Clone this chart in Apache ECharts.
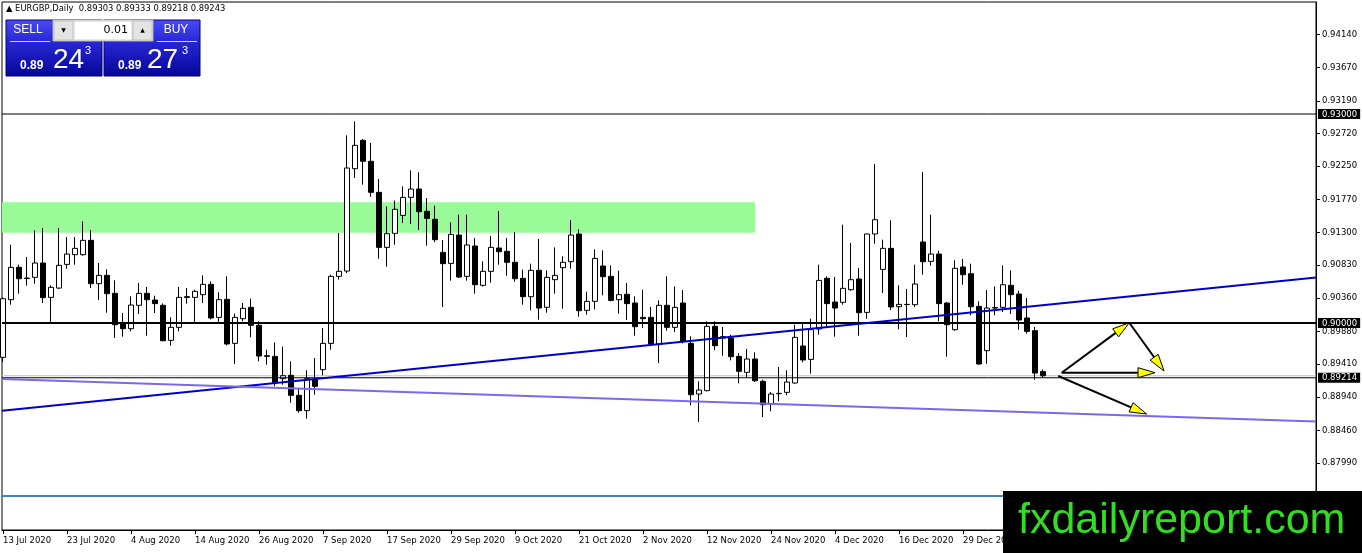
<!DOCTYPE html>
<html>
<head>
<meta charset="utf-8">
<script src="https://cdn.jsdelivr.net/npm/echarts@6.0.0/dist/echarts.min.js"></script>
<style>
html,body{margin:0;padding:0;background:#fff;}
#chart{width:1362px;height:553px;}
</style>
</head>
<body>
<div id="chart"></div>
<script>
// ---- data (bar index 0 = 13 Jul 2020, daily bars) ----
const tickBars = [0, 8, 16, 24, 32, 40, 48, 56, 64, 72, 80, 88, 96, 104, 112, 120];
const tickLabels = ['13 Jul 2020','23 Jul 2020','4 Aug 2020','14 Aug 2020','26 Aug 2020','7 Sep 2020','17 Sep 2020','29 Sep 2020','9 Oct 2020','21 Oct 2020','2 Nov 2020','12 Nov 2020','24 Nov 2020','4 Dec 2020','16 Dec 2020','29 Dec 2020'];

const opens = [0.89507,0.90335,0.90799,0.90645,0.90656,0.90861,0.90368,0.90502,0.90842,0.90981,
0.90981,0.91187,0.90565,0.90684,0.90426,0.90000,0.89919,0.90254,0.90426,0.90330,
0.90254,0.89751,0.89938,0.90378,0.90368,0.90407,0.90555,0.90081,0.90340,0.89708,
0.90062,0.90225,0.89967,0.89530,0.89521,0.89201,0.89249,0.88962,0.88742,0.89187,
0.89330,0.89708,0.90670,0.90746,0.92215,0.92622,0.92321,0.91876,0.91086,0.91287,
0.91545,0.91804,0.91923,0.91603,0.91488,0.91014,0.90856,0.91263,0.90670,0.91105,
0.90541,0.90742,0.91077,0.91029,0.90871,0.90641,0.90378,0.90756,0.90225,0.90622,
0.90794,0.90880,0.91278,0.90182,0.90311,0.90818,0.90670,0.90335,0.90412,0.90287,
0.90081,0.90081,0.89699,0.90254,0.89938,0.90287,0.89708,0.88981,0.89029,0.89952,
0.89804,0.89785,0.89521,0.89292,0.89483,0.89163,0.88837,0.88986,0.89005,0.89139,
0.89670,0.89478,0.89914,0.90641,0.90301,0.90297,0.90478,0.90632,0.90153,0.91278,
0.90770,0.91072,0.90234,0.90268,0.90263,0.91163,0.90885,0.90990,0.90287,0.89904,
0.90804,0.90708,0.90239,0.89603,0.90215,0.90225,0.90541,0.90416,0.90072,0.89890,
0.89303];
const closes = [0.90349,0.90799,0.90636,0.90640,0.90861,0.90364,0.90512,0.90828,0.90990,0.91072,
0.91187,0.90565,0.90684,0.90421,0.89976,0.89919,0.90258,0.90426,0.90335,0.90278,
0.89746,0.89938,0.90368,0.90368,0.90455,0.90555,0.90072,0.90335,0.89699,0.90081,
0.90211,0.89967,0.89526,0.89522,0.89148,0.89244,0.88962,0.88742,0.89201,0.89091,
0.89708,0.90670,0.90742,0.92225,0.92550,0.92321,0.91876,0.91086,0.91282,0.91632,
0.91804,0.91923,0.91598,0.91502,0.91196,0.90852,0.91273,0.90660,0.91120,0.90550,
0.90742,0.91086,0.91024,0.90871,0.90636,0.90378,0.90756,0.90215,0.90656,0.90684,
0.90871,0.91263,0.90177,0.90311,0.90928,0.90665,0.90325,0.90407,0.90278,0.89947,
0.90062,0.89699,0.90254,0.89938,0.90225,0.89737,0.88971,0.89038,0.89952,0.89675,
0.89785,0.89517,0.89306,0.89483,0.89172,0.88828,0.88981,0.88990,0.89153,0.89794,
0.89469,0.89904,0.90612,0.90278,0.90215,0.90498,0.90622,0.90148,0.91278,0.91483,
0.91072,0.90230,0.90268,0.90265,0.90560,0.90880,0.90990,0.90278,0.89976,0.90785,
0.90694,0.90234,0.89412,0.90215,0.90222,0.90550,0.90407,0.90043,0.89880,0.89282,
0.89243];
const lows = [0.89440,0.90263,0.90421,0.90536,0.90565,0.90287,0.90000,0.90488,0.90780,0.90837,
0.90967,0.90502,0.90330,0.90148,0.89785,0.89804,0.89880,0.90129,0.89818,0.90144,
0.89737,0.89675,0.89880,0.90278,0.90014,0.90287,0.90053,0.90010,0.89679,0.89412,
0.90024,0.89794,0.89450,0.89402,0.89091,0.89115,0.88856,0.88713,0.88627,0.88971,
0.89249,0.89617,0.90622,0.90718,0.92081,0.91986,0.91813,0.90923,0.90809,0.91124,
0.91435,0.91421,0.91335,0.91110,0.91163,0.90230,0.90608,0.90646,0.90608,0.90421,
0.90522,0.90579,0.90837,0.90679,0.90593,0.90263,0.90182,0.90048,0.90148,0.90421,
0.90206,0.90780,0.90091,0.90120,0.90196,0.90397,0.90311,0.90134,0.90043,0.89818,
0.89928,0.89689,0.89426,0.89890,0.89871,0.89708,0.88818,0.88579,0.89019,0.89608,
0.89531,0.89464,0.89134,0.89220,0.89153,0.88651,0.88732,0.88876,0.88962,0.89129,
0.89435,0.89273,0.89833,0.89952,0.89804,0.90263,0.90464,0.89818,0.90062,0.91139,
0.90431,0.90187,0.89909,0.89799,0.90230,0.90694,0.90823,0.90024,0.89517,0.89890,
0.90550,0.90110,0.89402,0.89416,0.90110,0.90158,0.90129,0.89904,0.89847,0.89187,
0.89218];
const highs = [0.90368,0.91124,0.90837,0.90947,0.91330,0.91364,0.90541,0.91364,0.91234,0.91234,
0.91459,0.91335,0.90861,0.90770,0.90612,0.90144,0.90383,0.90574,0.90517,0.90392,
0.90282,0.90081,0.90517,0.90502,0.90478,0.90684,0.90598,0.90440,0.90670,0.90134,
0.90287,0.90349,0.90024,0.89617,0.89722,0.89660,0.89450,0.89067,0.89321,0.89498,
0.89928,0.90694,0.91292,0.92694,0.92895,0.92640,0.92584,0.92067,0.91675,0.91756,
0.91962,0.92191,0.92163,0.91794,0.91684,0.91191,0.91445,0.91555,0.91555,0.91220,
0.90885,0.91249,0.91608,0.91220,0.91306,0.90766,0.90852,0.91206,0.90756,0.91086,
0.90957,0.91478,0.91345,0.90450,0.91057,0.91043,0.90828,0.90751,0.90574,0.90383,
0.90478,0.90230,0.90325,0.90670,0.90526,0.90474,0.89809,0.89163,0.90024,0.90024,
0.89943,0.89833,0.89569,0.89627,0.89579,0.89187,0.89010,0.89368,0.89321,0.89976,
0.89986,0.90062,0.90837,0.90670,0.90660,0.91412,0.91148,0.90789,0.91283,0.92282,
0.91196,0.91474,0.90541,0.90488,0.90837,0.92167,0.91555,0.91038,0.90301,0.90900,
0.90919,0.90852,0.90311,0.90474,0.90526,0.90828,0.90756,0.90464,0.90359,0.89943,
0.89333];

// y-axis tick labels and highlighted price levels
const yTicks = [0.94140,0.93670,0.93190,0.92720,0.92250,0.91770,0.91300,0.90830,0.90360,0.89880,0.89410,0.88940,0.88460,0.87990];
const levelLines = [0.93000, 0.90000, 0.89214];
const bidPrice = 0.89243;
const lowerLevel = 0.87517;

// drawn objects (bar index, price)
const xStart = -0.125, xEnd = 164.125;
const greenZone = [[xStart, 0.91733], [94, 0.91296]];
const blueTrend = [[xStart, 0.88741], [xEnd, 0.90653]];
const lilacTrend = [[xStart, 0.89196], [xEnd, 0.88588]];
const arrows = [
  [132.34, 0.89287, 140.79, 0.90004],
  [140.79, 0.90004, 145.13, 0.89311],
  [132.34, 0.89287, 144.00, 0.89287],
  [131.91, 0.89239, 142.96, 0.88694]
];

const candles = opens.map((o, i) => [i, o, closes[i], lows[i], highs[i]]);

function hLine(level, color, width, z) {
  return {type: 'line', z: z, silent: true, symbol: 'none', data: [[xStart, level], [xEnd, level]],
          lineStyle: {color: color, width: width}};
}

const chart = echarts.init(document.getElementById('chart'), null, {renderer: 'canvas'});
const FONT = 'DejaVu Sans';
const FS = 8.5;

const gradBlue = new echarts.graphic.LinearGradient(0, 0, 0, 1, [
  {offset: 0, color: '#4a4af5'}, {offset: 0.35, color: '#2a2ad8'}, {offset: 1, color: '#05059a'}
]);

chart.setOption({
  animation: false,
  backgroundColor: '#ffffff',
  grid: {left: 2, top: 2, width: 1314, height: 528, show: true, borderColor: '#000', borderWidth: 1,
         backgroundColor: 'transparent', containLabel: false, outerBoundsMode: 'none'},
  xAxis: [{
    type: 'value', min: xStart, max: xEnd,
    splitLine: {show: false},
    axisLine: {show: true, onZero: false, lineStyle: {color: '#000', width: 1}},
    axisTick: {show: true, length: 4, customValues: tickBars, lineStyle: {color: '#000'}},
    axisLabel: {
      customValues: tickBars, align: 'left', margin: 6,
      fontFamily: FONT, fontSize: FS, color: '#000',
      formatter: v => { const k = tickBars.indexOf(Math.round(v)); return k >= 0 ? tickLabels[k] : ''; }
    }
  }],
  yAxis: [{
    type: 'value', position: 'right', min: 0.87029, max: 0.94608, scale: true,
    splitLine: {show: false},
    axisLine: {show: true, onZero: false, lineStyle: {color: '#000', width: 1}},
    axisTick: {show: true, length: 4, customValues: yTicks, lineStyle: {color: '#000'}},
    axisLabel: {
      customValues: yTicks.concat(levelLines), margin: 2,
      fontFamily: FONT, fontSize: FS, color: '#000',
      formatter: v => {
        const s = v.toFixed(5);
        return levelLines.some(l => Math.abs(l - v) < 1e-7) ? '{hl|' + s + '}' : '{n|' + s + '}';
      },
      rich: {
        n: {color: '#000', fontFamily: FONT, fontSize: FS, padding: [0, 0, 0, 4]},
        hl: {backgroundColor: '#000', color: '#fff', fontFamily: FONT, fontSize: FS, padding: [1, 3, 0, 4]}
      }
    }
  }],
  series: [
    {
      type: 'line', data: [], z: 1, silent: true,
      markArea: {silent: true, itemStyle: {color: '#98fb98', opacity: 1}, data: [[{coord: greenZone[0]}, {coord: greenZone[1]}]]}
    },
    hLine(lowerLevel, '#4682b4', 2, 2),
    hLine(bidPrice, '#c0c0c0', 1, 2),
    {
      type: 'candlestick', z: 3, data: candles, barWidth: 5,
      itemStyle: {color: '#ffffff', color0: '#000000', borderColor: '#000000', borderColor0: '#000000', borderWidth: 1}
    },
    hLine(levelLines[0], '#000', 1, 4),
    hLine(levelLines[1], '#000', 2, 4),
    hLine(levelLines[2], '#000', 1, 4),
    {type: 'line', z: 5, data: blueTrend, symbol: 'none', lineStyle: {color: '#0000cd', width: 2}, silent: true},
    {type: 'line', z: 5, data: lilacTrend, symbol: 'none', lineStyle: {color: '#7b68ee', width: 2}, silent: true},
    {
      type: 'custom', z: 6, data: arrows, silent: true,
      encode: {x: [0, 2], y: [1, 3]},
      renderItem: (params, api) => {
        const p1 = api.coord([api.value(0), api.value(1)]);
        const p2 = api.coord([api.value(2), api.value(3)]);
        const dx = p2[0] - p1[0], dy = p2[1] - p1[1];
        const len = Math.sqrt(dx * dx + dy * dy);
        const ux = dx / len, uy = dy / len, nx = -uy, ny = ux;
        const L = 17, W = 5;
        const bx = p2[0] - ux * L, by = p2[1] - uy * L;
        return {
          type: 'group',
          children: [
            {type: 'line', shape: {x1: p1[0], y1: p1[1], x2: bx, y2: by}, style: {stroke: '#000', lineWidth: 2}},
            {type: 'polygon', shape: {points: [[p2[0], p2[1]], [bx + nx * W, by + ny * W], [bx - nx * W, by - ny * W]]},
             style: {fill: '#ffff00', stroke: '#000', lineWidth: 1}}
          ]
        };
      }
    }
  ],
  graphic: [
    {type: 'text', left: 6, top: 5, z: 100, style: {text: '▲ EURGBP,Daily  0.89303 0.89333 0.89218 0.89243', fill: '#000', font: '8.4px "DejaVu Sans"'}},
    // one-click trading panel
    {type: 'rect', z: 100, shape: {x: 6, y: 20, width: 96, height: 56}, style: {fill: gradBlue, stroke: '#00007a', lineWidth: 1}},
    {type: 'rect', z: 100, shape: {x: 104, y: 20, width: 96, height: 56}, style: {fill: gradBlue, stroke: '#00007a', lineWidth: 1}},
    {type: 'line', z: 101, shape: {x1: 10, y1: 41.5, x2: 50, y2: 41.5}, style: {stroke: '#ffffff', lineWidth: 1, opacity: 0.8}},
    {type: 'line', z: 101, shape: {x1: 157, y1: 41.5, x2: 197, y2: 41.5}, style: {stroke: '#ffffff', lineWidth: 1, opacity: 0.8}},
    {type: 'text', z: 101, x: 28, y: 30, style: {text: 'SELL', fill: '#fff', font: '12px "Liberation Sans"', textAlign: 'center', textVerticalAlign: 'middle'}},
    {type: 'text', z: 101, x: 176, y: 30, style: {text: 'BUY', fill: '#fff', font: '12px "Liberation Sans"', textAlign: 'center', textVerticalAlign: 'middle'}},
    {type: 'rect', z: 102, shape: {x: 53, y: 20, width: 100, height: 21}, style: {fill: '#f4f4f4', stroke: '#b0b0b0', lineWidth: 1}},
    {type: 'rect', z: 103, shape: {x: 54, y: 21, width: 19, height: 19}, style: {fill: '#e4e4e4', stroke: '#c0c0c0', lineWidth: 1}},
    {type: 'rect', z: 103, shape: {x: 74, y: 21, width: 58, height: 19}, style: {fill: '#ffffff', stroke: '#d0d0d0', lineWidth: 1}},
    {type: 'rect', z: 103, shape: {x: 133, y: 21, width: 19, height: 19}, style: {fill: '#e4e4e4', stroke: '#c0c0c0', lineWidth: 1}},
    {type: 'text', z: 104, x: 63.5, y: 30.5, style: {text: '▼', fill: '#000', font: '6px "DejaVu Sans"', textAlign: 'center', textVerticalAlign: 'middle'}},
    {type: 'text', z: 104, x: 142.5, y: 30.5, style: {text: '▲', fill: '#000', font: '6px "DejaVu Sans"', textAlign: 'center', textVerticalAlign: 'middle'}},
    {type: 'text', z: 104, x: 128, y: 30.5, style: {text: '0.01', fill: '#000', font: '11px "DejaVu Sans"', textAlign: 'right', textVerticalAlign: 'middle'}},
    {type: 'text', z: 101, x: 20, y: 65.5, style: {text: '0.89', fill: '#fff', font: 'bold 12px "Liberation Sans"', textVerticalAlign: 'middle'}},
    {type: 'text', z: 101, x: 53, y: 60, style: {text: '24', fill: '#fff', font: '28px "Liberation Sans"', textVerticalAlign: 'middle'}},
    {type: 'text', z: 101, x: 85, y: 51, style: {text: '3', fill: '#fff', font: '11px "Liberation Sans"', textVerticalAlign: 'middle'}},
    {type: 'text', z: 101, x: 118, y: 65.5, style: {text: '0.89', fill: '#fff', font: 'bold 12px "Liberation Sans"', textVerticalAlign: 'middle'}},
    {type: 'text', z: 101, x: 147, y: 60, style: {text: '27', fill: '#fff', font: '28px "Liberation Sans"', textVerticalAlign: 'middle'}},
    {type: 'text', z: 101, x: 182, y: 51, style: {text: '3', fill: '#fff', font: '11px "Liberation Sans"', textVerticalAlign: 'middle'}},
    // watermark
    {type: 'rect', z: 110, shape: {x: 1003, y: 491, width: 359, height: 62}, style: {fill: '#000'}},
    {type: 'text', z: 111, x: 1018, y: 521, style: {text: 'fxdailyreport.com', fill: '#33dd22', font: '43px "Liberation Sans"', textVerticalAlign: 'middle'}}
  ]
});
</script>
</body>
</html>
